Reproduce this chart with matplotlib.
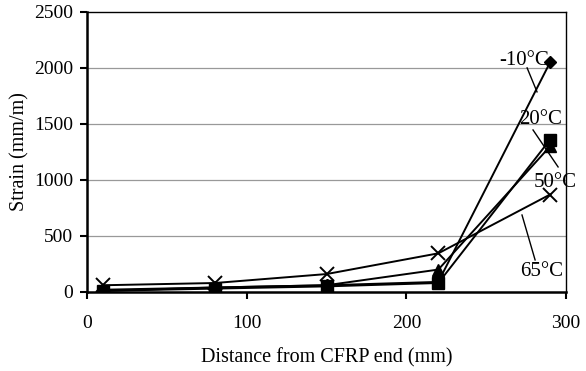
import matplotlib
matplotlib.use("Agg")
import matplotlib.pyplot as plt

# distances along the CFRP (mm)
distance = [10, 80, 150, 220, 290]

# strain readings per temperature
strain_m10 = [10, 40, 60, 90, 2050]
strain_20 = [10, 30, 50, 80, 1360]
strain_50 = [20, 40, 60, 200, 1300]
strain_65 = [60, 80, 160, 345, 870]

y_ticks = [0, 500, 1000, 1500, 2000, 2500]
x_ticks = [0, 100, 200, 300]

plt.rcParams['font.family'] = ['Liberation Serif', 'DejaVu Serif']

fig = plt.figure(figsize=(5.86, 3.71), dpi=100)
ax = fig.add_axes([0.1485, 0.213, 0.8175, 0.755])

# gridlinhas horizontais cinzas
for v in y_ticks[1:-1]:
    ax.axhline(v, color='#999999', linewidth=0.9, zorder=0)

kw = dict(color='black', linewidth=1.4, zorder=3)
ax.plot(distance, strain_65, marker='x', markersize=9.5, markeredgewidth=1.4, **kw)
ax.plot(distance, strain_50, marker='^', markersize=8.5, **kw)
ax.plot(distance, strain_m10, marker='D', markersize=6.5, **kw)
ax.plot(distance, strain_20, marker='s', markersize=8.5, **kw)

# etiquetas das curvas com linhas de chamada
ax.text(274, 2062, '-10°C', ha='center', va='center', fontsize=15, zorder=4)
ax.text(284, 1536, '20°C', ha='center', va='center', fontsize=15, zorder=4)
ax.text(293, 973, '50°C', ha='center', va='center', fontsize=15, zorder=4)
ax.text(285, 187, '65°C', ha='center', va='center', fontsize=15, zorder=4)
ax.plot([275.6, 281.8], [2000, 1786], color='black', linewidth=1.0, zorder=2)
ax.plot([279.3, 295], [1446, 1116], color='black', linewidth=1.0, zorder=2)
ax.plot([272.4, 280.6], [687, 286], color='black', linewidth=1.0, zorder=2)

ax.set_xlim(0, 300)
ax.set_ylim(0, 2500)
ax.set_xticks(x_ticks)
ax.set_yticks(y_ticks)
ax.tick_params(axis='both', direction='out', length=5, width=1.5, labelsize=14)
ax.tick_params(axis='x', pad=11.5)
ax.tick_params(axis='y', pad=5)

for side in ['left', 'bottom']:
    ax.spines[side].set_linewidth(1.8)
for side in ['top', 'right']:
    ax.spines[side].set_linewidth(1.0)

ax.set_xlabel('Distance from CFRP end (mm)', fontsize=14.5, labelpad=12)
ax.set_ylabel('Strain (mm/m)', fontsize=14.5, labelpad=3)

fig.savefig('out.png', dpi=100)
